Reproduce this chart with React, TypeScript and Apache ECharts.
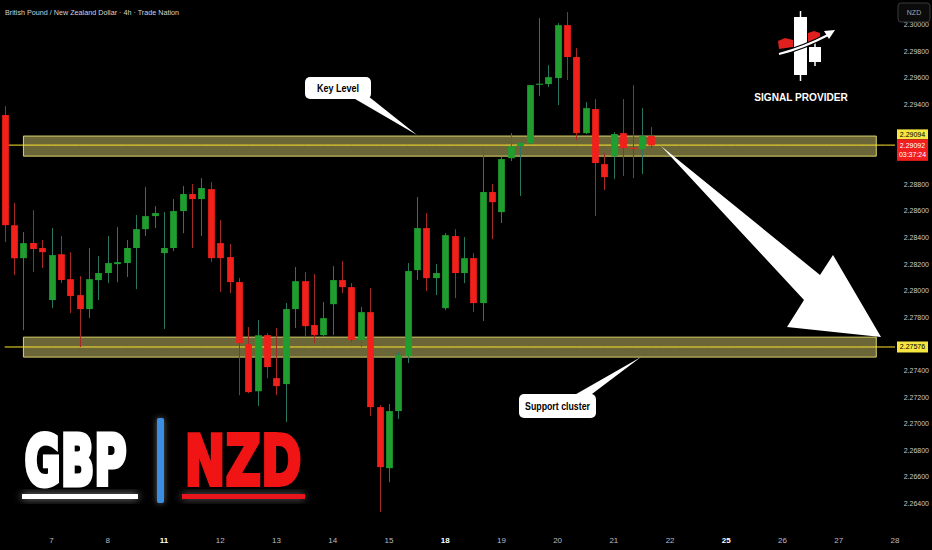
import React, { useEffect, useRef } from 'react';
import * as echarts from 'echarts';

// ---------- data ----------
const dayLabels = ['7', '8', '11', '12', '13', '14', '15', '18', '19', '20', '21', '22', '25', '26', '27', '28'];
const weekStarts = ['11', '18', '25'];
const firstDayIndex = 5;
const barsPerDay = 6;
const totalSlots = 96;

const opens = [
  2.2932, 2.28492, 2.28244, 2.28357, 2.2832, 2.27929, 2.28274, 2.28086, 2.27966, 2.27861,
  2.28079, 2.28132, 2.28199, 2.28207, 2.2832, 2.28462, 2.2856, 2.28282, 2.2832, 2.28598,
  2.28726, 2.28688, 2.28763, 2.28357, 2.28252, 2.28064, 2.27598, 2.27244, 2.27665, 2.27342,
  2.27297, 2.27861, 2.28071, 2.27741, 2.27665, 2.27898, 2.28079, 2.28026, 2.27628, 2.27838,
  2.27124, 2.26665, 2.27094, 2.27508, 2.28154, 2.2847, 2.28094, 2.27868, 2.2841, 2.28132,
  2.28244, 2.27906, 2.28741, 2.2859, 2.28996, 2.29086, 2.29109, 2.29549, 2.29553, 2.29598,
  2.29996, 2.29756, 2.29184, 2.29365, 2.28951, 2.29011, 2.29184, 2.29075, 2.29064, 2.29162,
];
const highs = [
  2.29387, 2.28658, 2.2844, 2.28605, 2.2838, 2.2847, 2.2841, 2.28289, 2.28109, 2.2832,
  2.28259, 2.2841, 2.28477, 2.2838, 2.28568, 2.28778, 2.28635, 2.2859, 2.28688, 2.28786,
  2.28801, 2.28846, 2.28816, 2.2853, 2.2835, 2.28094, 2.27726, 2.27778, 2.2768, 2.27718,
  2.27906, 2.28177, 2.28139, 2.28124, 2.27914, 2.28184, 2.28222, 2.28056, 2.27876, 2.28019,
  2.27139, 2.27147, 2.27538, 2.28207, 2.28703, 2.28583, 2.28199, 2.28432, 2.28462, 2.28402,
  2.28282, 2.29071, 2.28801, 2.29004, 2.29184, 2.29117, 2.29545, 2.30049, 2.29695, 2.30011,
  2.30094, 2.29823, 2.29417, 2.2944, 2.29034, 2.29192, 2.2944, 2.29545, 2.29372, 2.29229,
];
const lows = [
  2.28365, 2.28117, 2.27703, 2.28139, 2.28169, 2.27868, 2.28056, 2.27831, 2.27575, 2.27793,
  2.27929, 2.28056, 2.28064, 2.28102, 2.28011, 2.2841, 2.2847, 2.27711, 2.28297, 2.28432,
  2.2832, 2.2841, 2.28214, 2.27989, 2.27981, 2.27214, 2.27229, 2.27132, 2.27342, 2.27214,
  2.27011, 2.27718, 2.27658, 2.27605, 2.2765, 2.27665, 2.27981, 2.27613, 2.27575, 2.27056,
  2.26335, 2.2656, 2.27034, 2.27455, 2.28079, 2.27996, 2.27966, 2.27853, 2.27944, 2.28056,
  2.27838, 2.27771, 2.28387, 2.28508, 2.28974, 2.28711, 2.29102, 2.29462, 2.2953, 2.29395,
  2.29583, 2.29132, 2.29177, 2.2856, 2.28756, 2.28838, 2.28861, 2.28846, 2.28876, 2.29071,
];
const closes = [
  2.28492, 2.28244, 2.28357, 2.28312, 2.28289, 2.28267, 2.28079, 2.27959, 2.27861, 2.28086,
  2.28132, 2.28207, 2.28214, 2.2832, 2.28462, 2.2856, 2.28583, 2.2832, 2.28598, 2.28726,
  2.28688, 2.28771, 2.28244, 2.28244, 2.28064, 2.27605, 2.27237, 2.27665, 2.27425, 2.27282,
  2.27861, 2.28071, 2.27733, 2.27665, 2.27793, 2.28079, 2.28026, 2.27628, 2.27838, 2.27124,
  2.26673, 2.27094, 2.27515, 2.28147, 2.2847, 2.28094, 2.28132, 2.28417, 2.28132, 2.28244,
  2.27906, 2.28741, 2.28665, 2.28989, 2.29086, 2.29109, 2.29545, 2.29556, 2.29605, 2.29996,
  2.29756, 2.29184, 2.29372, 2.28959, 2.28853, 2.29177, 2.29071, 2.29068, 2.29162, 2.29092,
];

const keyZone = [2.29162, 2.29011];
const keyLine = 2.29094;
const supportZone = [2.2765, 2.275];
const supportLine = 2.27576;
const lastPrice = 2.29092;
const countdown = '03:37:24';
const zoneStartSlot = 2;
const zoneEndSlot = 93;

const yMin = 2.262;
const yMax = 2.30185;
const yStep = 0.002;
const hiddenTicks = [2.276, 2.29, 2.292];

// ---------- styles ----------
const SANS = '"Liberation Sans", Arial, sans-serif';
const UP = '#1f9d2e';
const DOWN = '#f2201b';
const WICK_UP = '#2b7663';
const WICK_DOWN = '#a52a26';
const YELLOW = '#ffe62e';

export default function App() {
  const ref = useRef<HTMLDivElement>(null);

  useEffect(() => {
    document.body.style.margin = '0';
    document.body.style.background = '#000';
    if (!ref.current) return;
    const chart = echarts.init(ref.current, undefined, { renderer: 'svg' });

    const categories: string[] = [];
    for (let i = 0; i < totalSlots; i++) {
      const k = i - firstDayIndex;
      categories.push(k >= 0 && k % barsPerDay === 0 && k / barsPerDay < dayLabels.length ? dayLabels[k / barsPerDay] : '');
    }
    const data = opens.map((o, i) => [i, o, closes[i], lows[i], highs[i]]);
    const levelSeries = (v: number) => ({
      type: 'line',
      data: categories.map(() => v),
      silent: true,
      showSymbol: false,
      symbol: 'none',
      lineStyle: { color: YELLOW, width: 1, type: 'solid' },
      z: 2,
    });

    const option: any = {
      animation: false,
      backgroundColor: '#000',
      grid: { left: 0, right: 32, top: 0, bottom: 20 },
      xAxis: {
        type: 'category',
        data: categories,
        boundaryGap: true,
        axisLine: { show: false },
        axisTick: { show: false },
        splitLine: { show: false },
        axisLabel: {
          interval: 0,
          margin: 6,
          color: '#b8bcc6',
          fontSize: 8,
          fontFamily: SANS,
          formatter: (v: string) => (weekStarts.includes(v) ? `{b|${v}}` : v),
          rich: { b: { fontWeight: 'bold', color: '#ffffff', fontSize: 8, fontFamily: SANS } },
        },
      },
      yAxis: {
        type: 'value',
        position: 'right',
        min: yMin,
        max: yMax,
        interval: yStep,
        axisLine: { show: false },
        axisTick: { show: false },
        splitLine: { show: false },
        axisLabel: {
          margin: 4,
          color: '#c9cbd1',
          fontSize: 7,
          fontFamily: SANS,
          formatter: (v: number) => {
            const k = Math.round(v / yStep);
            if (Math.abs(v - k * yStep) > 1e-7) return '';
            if (Math.abs(v - yMin) < 1e-7) return '';
            if (hiddenTicks.some((h) => Math.abs(h - v) < 1e-7)) return '';
            return v.toFixed(5);
          },
        },
      },
      series: [
        {
          type: 'line',
          data: [],
          silent: true,
          showSymbol: false,
          markArea: {
            silent: true,
            itemStyle: { color: 'rgba(214,204,110,0.5)', borderColor: '#dcd26a', borderWidth: 1 },
            data: [
              [{ xAxis: zoneStartSlot, yAxis: keyZone[0] }, { xAxis: zoneEndSlot, yAxis: keyZone[1] }],
              [{ xAxis: zoneStartSlot, yAxis: supportZone[0] }, { xAxis: zoneEndSlot, yAxis: supportZone[1] }],
            ],
          },
          z: 1,
        },
        levelSeries(keyLine),
        levelSeries(supportLine),
        {
          type: 'custom',
          data,
          encode: { x: 0, y: [1, 2, 3, 4] },
          renderItem: (params: any, api: any) => {
            const i = api.value(0);
            const o = api.value(1);
            const c = api.value(2);
            const l = api.value(3);
            const h = api.value(4);
            const pO = api.coord([i, o]);
            const pC = api.coord([i, c]);
            const pL = api.coord([i, l]);
            const pH = api.coord([i, h]);
            const w = api.size([1, 0])[0] * 0.72;
            const up = c >= o;
            const top = Math.min(pO[1], pC[1]);
            const hgt = Math.max(Math.abs(pO[1] - pC[1]), 1.2);
            const x = Math.round(pO[0]) + 0.5;
            return {
              type: 'group',
              children: [
                {
                  type: 'line',
                  shape: { x1: x, y1: pH[1], x2: x, y2: pL[1] },
                  style: { stroke: up ? WICK_UP : WICK_DOWN, lineWidth: 1 },
                },
                {
                  type: 'rect',
                  shape: { x: x - w / 2, y: top, width: w, height: hgt },
                  style: { fill: up ? UP : DOWN },
                },
              ],
            };
          },
          z: 3,
        },
      ],
    };
    chart.setOption(option);

    const yL = chart.convertToPixel({ yAxisIndex: 0 }, lastPrice) as number;
    const yS = chart.convertToPixel({ yAxisIndex: 0 }, supportLine) as number;
    const tagX = 897;
    const tagW = 31;
    const tagFont = `7px ${SANS}`;

    const white = '#ffffff';
    const bigFont = 'bold 70px "DejaVu Sans", "Liberation Sans", sans-serif';
    const graphic: any[] = [
      // title
      {
        type: 'text', x: 5, y: 12, scaleX: 0.9,
        style: { text: 'British Pound / New Zealand Dollar · 4h · Trade Nation', font: `8px ${SANS}`, fill: '#d1d4dc', verticalAlign: 'middle' },
      },
      // currency box
      { type: 'rect', shape: { x: 898, y: 3, width: 32, height: 19, r: 3 }, style: { fill: '#0b0b0b', stroke: '#3a3a3a', lineWidth: 1 }, z: 20 },
      { type: 'text', x: 914, y: 12.5, style: { text: 'NZD', font: `7px ${SANS}`, fill: '#a0a3ab', align: 'center', verticalAlign: 'middle' }, z: 21 },
      // price tags
      { type: 'rect', shape: { x: tagX, y: yL - 16, width: tagW, height: 10 }, style: { fill: '#f5e642' }, z: 20 },
      { type: 'text', x: tagX + tagW / 2, y: yL - 11, style: { text: keyLine.toFixed(5), font: tagFont, fill: '#000', align: 'center', verticalAlign: 'middle' }, z: 21 },
      { type: 'rect', shape: { x: tagX, y: yL - 6, width: tagW, height: 21.5 }, style: { fill: '#f21d1d' }, z: 20 },
      { type: 'text', x: tagX + tagW / 2, y: yL, style: { text: lastPrice.toFixed(5), font: tagFont, fill: '#fff', align: 'center', verticalAlign: 'middle' }, z: 21 },
      { type: 'text', x: tagX + tagW / 2, y: yL + 9.5, style: { text: countdown, font: tagFont, fill: '#fff', align: 'center', verticalAlign: 'middle' }, z: 21 },
      { type: 'rect', shape: { x: tagX, y: yS - 5.5, width: tagW, height: 11 }, style: { fill: '#f5e642' }, z: 20 },
      { type: 'text', x: tagX + tagW / 2, y: yS, style: { text: supportLine.toFixed(5), font: tagFont, fill: '#000', align: 'center', verticalAlign: 'middle' }, z: 21 },

      // Key Level callout
      { type: 'polygon', shape: { points: [[350, 96], [368, 96], [417, 135]] }, style: { fill: white }, z: 30 },
      { type: 'rect', shape: { x: 305, y: 77, width: 66, height: 22, r: 5 }, style: { fill: white }, z: 31 },
      { type: 'text', x: 338, y: 88, scaleX: 0.9, style: { text: 'Key Level', font: `bold 10px ${SANS}`, fill: '#000', align: 'center', verticalAlign: 'middle' }, z: 32 },

      // Support cluster callout
      { type: 'polygon', shape: { points: [[571, 397], [588, 397], [641, 357]] }, style: { fill: white }, z: 30 },
      { type: 'rect', shape: { x: 519, y: 394, width: 77, height: 24, r: 5 }, style: { fill: white }, z: 31 },
      { type: 'text', x: 557.5, y: 406, scaleX: 0.88, style: { text: 'Support cluster', font: `bold 10px ${SANS}`, fill: '#000', align: 'center', verticalAlign: 'middle' }, z: 32 },

      // big arrow
      {
        type: 'polygon',
        shape: { points: [[661, 146], [820, 275], [833, 255], [881, 337], [787, 327], [804, 300]] },
        style: { fill: white },
        z: 30,
      },

      // logo
      { type: 'line', shape: { x1: 800.5, y1: 11, x2: 800.5, y2: 81 }, style: { stroke: white, lineWidth: 1.5 }, z: 40 },
      { type: 'rect', shape: { x: 794, y: 17, width: 13, height: 58 }, style: { fill: white }, z: 41 },
      { type: 'line', shape: { x1: 815, y1: 41, x2: 815, y2: 66 }, style: { stroke: white, lineWidth: 1.5 }, z: 40 },
      { type: 'rect', shape: { x: 809, y: 47, width: 12, height: 15 }, style: { fill: white }, z: 41 },
      { type: 'polygon', shape: { points: [[778, 41], [785, 38], [793, 40], [793, 47], [779, 49]] }, style: { fill: '#e01f1f' }, z: 42 },
      { type: 'polygon', shape: { points: [[808, 33], [814, 31], [820, 33], [820, 40], [808, 42]] }, style: { fill: '#e01f1f' }, z: 42 },
      { type: 'bezierCurve', shape: { x1: 779, y1: 54, cpx1: 803, cpy1: 48, x2: 828, y2: 35 }, style: { stroke: '#000', lineWidth: 4.5, fill: 'none' }, z: 43 },
      { type: 'bezierCurve', shape: { x1: 779, y1: 54, cpx1: 803, cpy1: 48, x2: 828, y2: 35 }, style: { stroke: white, lineWidth: 2, fill: 'none' }, z: 44 },
      { type: 'polygon', shape: { points: [[824, 31], [835, 30], [829, 39]] }, style: { fill: white }, z: 44 },
      { type: 'text', x: 801, y: 97, scaleX: 0.92, style: { text: 'SIGNAL PROVIDER', font: `bold 11px ${SANS}`, fill: white, align: 'center', verticalAlign: 'middle' }, z: 44 },

      // GBP | NZD
      {
        type: 'text', x: 75.5, y: 461, scaleX: 0.63,
        style: { text: 'GBP', font: bigFont, fill: '#ffffff', stroke: '#ffffff', lineWidth: 5, align: 'center', verticalAlign: 'middle', shadowColor: 'rgba(255,255,255,0.55)', shadowBlur: 14 },
        z: 50,
      },
      { type: 'rect', shape: { x: 22, y: 494, width: 116, height: 5 }, style: { fill: '#ffffff', shadowColor: 'rgba(255,255,255,0.6)', shadowBlur: 8 }, z: 50 },
      { type: 'rect', shape: { x: 157, y: 418, width: 7, height: 85, r: 2 }, style: { fill: '#3b8fe2', shadowColor: 'rgba(255,255,255,0.4)', shadowBlur: 6 }, z: 50 },
      {
        type: 'text', x: 243, y: 461, scaleX: 0.7,
        style: { text: 'NZD', font: bigFont, fill: '#f01414', stroke: '#f01414', lineWidth: 4, align: 'center', verticalAlign: 'middle', shadowColor: 'rgba(255,255,255,0.45)', shadowBlur: 14 },
        z: 50,
      },
      { type: 'rect', shape: { x: 182, y: 494, width: 123, height: 5 }, style: { fill: '#e8141a', shadowColor: 'rgba(255,255,255,0.45)', shadowBlur: 8 }, z: 50 },
    ];
    chart.setOption({ graphic });

    return () => chart.dispose();
  }, []);

  return <div ref={ref} style={{ width: 932, height: 550, background: '#000' }} />;
}
